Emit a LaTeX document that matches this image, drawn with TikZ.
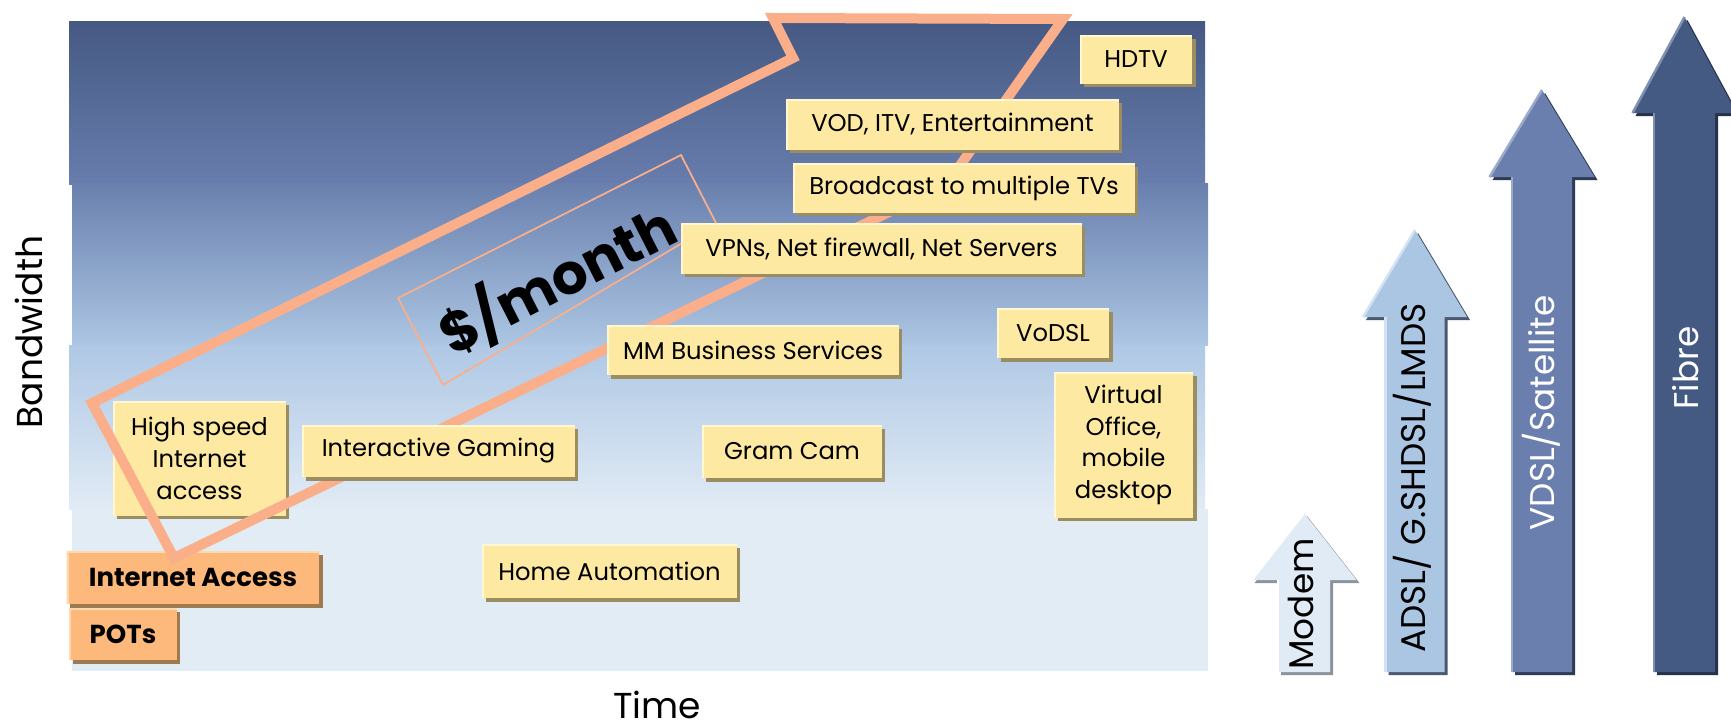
\documentclass[tikz,border=0pt]{standalone}
\usepackage{fontspec}
\setmainfont{Poppins}
\usetikzlibrary{shadows}
\definecolor{boxy}{HTML}{FDE9A2}
\definecolor{boxysh}{HTML}{9C8D60}
\definecolor{boxyhl}{HTML}{FFF6D2}
\definecolor{boxo}{HTML}{FDB97B}
\definecolor{boxosh}{HTML}{9E7A50}
\definecolor{boxohl}{HTML}{FFD9AE}
\definecolor{zigc}{HTML}{FBAE8A}
\definecolor{bAtop}{HTML}{455983}
\definecolor{bAmid}{HTML}{566B99}
\definecolor{bAbot}{HTML}{687DAD}
\definecolor{bBtop}{HTML}{6980AE}
\definecolor{bBmid}{HTML}{8098C3}
\definecolor{bBbot}{HTML}{ACC6E3}
\definecolor{bCtop}{HTML}{AFC8E5}
\definecolor{bCmid}{HTML}{CDDCEE}
\definecolor{bCbot}{HTML}{E1EBF5}
\definecolor{bD}{HTML}{E2ECF5}
\definecolor{arA}{HTML}{E1EBF5}
\definecolor{arAsh}{HTML}{8C939C}
\definecolor{arB}{HTML}{ABC6E3}
\definecolor{arBsh}{HTML}{4A5870}
\definecolor{arBhl}{HTML}{D2E2F2}
\definecolor{arC}{HTML}{6A7FAE}
\definecolor{arCsh}{HTML}{2E3B57}
\definecolor{arChl}{HTML}{9AAACB}
\definecolor{arD}{HTML}{455A82}
\definecolor{arDsh}{HTML}{26324A}
\definecolor{arDhl}{HTML}{8090B0}
\newcommand\blockarrow[9]{%
  \fill[#8] ({#1-#2+3},{#6+3}) -- ({#1-#2+3},{#5+3}) -- ({#1-#3+3},{#5+3}) -- ({#1+3},{#4+3}) -- ({#1+#3+3},{#5+3}) -- ({#1+#2+3},{#5+3}) -- ({#1+#2+3},{#6+3}) -- cycle;
  \fill[#7] ({#1-#2},#6) -- ({#1-#2},#5) -- ({#1-#3},#5) -- (#1,#4) -- ({#1+#3},#5) -- ({#1+#2},#5) -- ({#1+#2},#6) -- cycle;
  \draw[#9, line width=0.05cm] ({#1-#2},#6) -- ({#1-#2},#5);
  \draw[#9, line width=0.05cm] ({#1-#3},#5) -- (#1,#4);
}
\tikzset{
  ybox/.style={fill=boxy, inner sep=0pt, align=center, text=black,
    font=\fontsize{13.8}{18}\selectfont,
    general shadow={fill=boxysh, shadow xshift=0.07cm, shadow yshift=-0.07cm},
    path picture={\draw[boxyhl, line width=0.09cm] (path picture bounding box.south west) -- (path picture bounding box.north west) -- (path picture bounding box.north east);}},
  obox/.style={fill=boxo, inner sep=0pt, align=center, text=black,
    font=\fontsize{14.8}{18}\selectfont\bfseries,
    general shadow={fill=boxosh, shadow xshift=0.07cm, shadow yshift=-0.07cm},
    path picture={\draw[boxohl, line width=0.09cm] (path picture bounding box.south west) -- (path picture bounding box.north west) -- (path picture bounding box.north east);}},
  zig/.style={draw=zigc, line width=0.2cm, line join=miter},
  arrtext/.style={rotate=90, inner sep=0pt, font=\fontsize{19.5}{22}\selectfont},
  axislabel/.style={inner sep=0pt, font=\fontsize{20.5}{24}\selectfont, text=black}
}
\begin{document}
\begin{tikzpicture}[x=0.02cm, y=-0.02cm]
\useasboundingbox (0,0) rectangle (1731,727);
\fill[white] (0,0) rectangle (1731,727);
% background bands
\shade[top color=bAtop, middle color=bAmid, bottom color=bAbot] (69,21) rectangle (1205,184);
\shade[top color=bBtop, middle color=bBmid, bottom color=bBbot] (72,183.5) rectangle (1208,345.5);
\shade[top color=bCtop, middle color=bCmid, bottom color=bCbot] (69,345) rectangle (1205,509.5);
\fill[bD] (72,509) rectangle (1208,671);
% boxes under the zigzag
\node[ybox, minimum width=3.46cm, minimum height=2.3cm] (hsia) at (199.5,458.5) {High speed\\Internet\\access};
\node[obox, minimum width=5.06cm, minimum height=1.06cm] (inet) at (193,577.5) {Internet Access};
\node[obox, minimum width=2.16cm, minimum height=1.04cm] (pots) at (123,634) {POTs};
% zigzag price band
\draw[zig] (174,558) -- (92,403) -- (793,58) -- (773,18) -- (1063,19) -- (947,184) -- cycle;
\draw[zigc, line width=0.035cm] (398,298) -- (681,155) -- (716,223) -- (443,385) -- cycle;
\node[rotate=27, inner sep=0pt, font=\fontsize{32}{38}\selectfont\bfseries] (price) at (557,279) {\$/month};
% service boxes
\node[ybox, minimum width=2.24cm, minimum height=0.98cm] (hdtv) at (1136,59.5) {HDTV};
\node[ybox, minimum width=6.66cm, minimum height=1.02cm] (vod) at (952.5,124.5) {VOD, ITV, Entertainment};
\node[ybox, minimum width=6.84cm, minimum height=1.0cm] (bcast) at (964,188) {Broadcast to multiple TVs};
\node[ybox, minimum width=8.02cm, minimum height=1.02cm] (vpn) at (881.5,248.5) {VPNs, Net firewall, Net Servers};
\node[ybox, minimum width=2.24cm, minimum height=1.0cm] (vodsl) at (1053,333) {VoDSL};
\node[ybox, minimum width=5.84cm, minimum height=1.0cm] (mm) at (753,350) {MM Business Services};
\node[ybox, minimum width=2.78cm, minimum height=2.92cm] (virt) at (1123.5,445) {Virtual\\Office,\\mobile\\desktop};
\node[ybox, minimum width=5.46cm, minimum height=1.04cm] (gaming) at (438.5,451) {Interactive Gaming};
\node[ybox, minimum width=3.6cm, minimum height=1.06cm] (gram) at (792,451.5) {Gram Cam};
\node[ybox, minimum width=5.1cm, minimum height=1.08cm] (home) at (609.5,571) {Home Automation};
% technology arrows
\blockarrow{1304}{26}{52.5}{513}{580}{672}{arA}{arAsh}{white}
\blockarrow{1415}{29.5}{52}{230}{317}{672}{arB}{arBsh}{arBhl}
\blockarrow{1542}{30}{52.5}{90}{177}{672}{arC}{arCsh}{arChl}
\blockarrow{1684.5}{30.5}{52}{17}{113}{672}{arD}{arDsh}{arDhl}
\node[arrtext, text=black] (tmodem) at (1301,604) {Modem};
\node[arrtext, text=black] (tadsl) at (1412,478) {ADSL/ G.SHDSL/LMDS};
\node[arrtext, text=white] (tvdsl) at (1541,413) {VDSL/Satellite};
\node[arrtext, text=white] (tfibre) at (1686,368) {Fibre};
% axis labels
\node[axislabel] (time) at (657,705) {Time};
\node[axislabel, rotate=90] (bw) at (29,332) {Bandwidth};
\end{tikzpicture}
\end{document}
